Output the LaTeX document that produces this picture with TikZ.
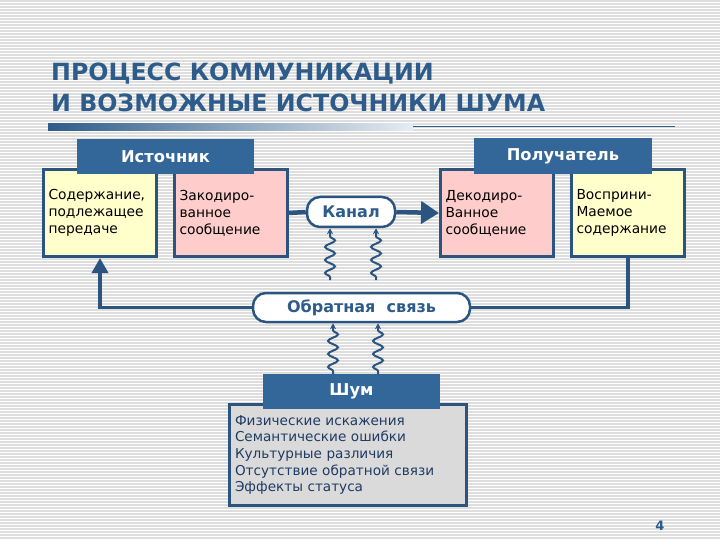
\documentclass[tikz,border=0pt]{standalone}
\usepackage{fontspec}
\setmainfont{DejaVu Sans}
\usetikzlibrary{decorations.pathmorphing,arrows.meta}
\definecolor{hdr}{HTML}{336699}
\definecolor{bord}{HTML}{2B5580}
\definecolor{ttl}{HTML}{2E5C8A}
\definecolor{yel}{HTML}{FFFFCC}
\definecolor{pnk}{HTML}{FFCCCC}
\definecolor{gry}{HTML}{DADADA}
\definecolor{stripe}{HTML}{DEDEDE}
\definecolor{navy}{HTML}{1F3B63}
\begin{document}
\begin{tikzpicture}[x=1pt,y=-1pt,
  cbox/.style={draw=bord, line width=3pt, minimum width=113pt, minimum height=87pt,
    text width=103pt, align=left, inner xsep=5pt, font=\fontsize{13.8}{17}\selectfont},
  hbox/.style={fill=hdr, text=white, minimum width=177pt, minimum height=35pt,
    inner sep=0pt, font=\bfseries\fontsize{16.3}{18}\selectfont},
  pill/.style={draw=bord, line width=2.5pt, fill=white, rounded corners=13pt,
    inner sep=0pt, text=ttl, font=\bfseries\fontsize{16}{18}\selectfont},
  conn/.style={draw=bord, line width=4.5pt},
  fbline/.style={draw=bord, line width=3.5pt},
  wave/.style={draw=bord, line width=2pt,
    decorate, decoration={snake, segment length=13pt, amplitude=5pt, pre length=3pt, post length=5pt},
    -{Stealth[length=6pt,width=6pt]}}
]
\useasboundingbox (0,0) rectangle (720,540);
\fill[white] (0,0) rectangle (720,540);
\foreach \yy in {1,4,...,540} \draw[stripe, line width=1.2pt] (0,\yy) -- (720,\yy);

% title
\node[anchor=north west, inner sep=0pt, text=ttl, align=left,
  font=\bfseries\fontsize{23.7}{31}\selectfont] (title) at (51,63)
  {ПРОЦЕСС КОММУНИКАЦИИ\\И ВОЗМОЖНЫЕ ИСТОЧНИКИ ШУМА};
\shade[left color=ttl, right color=ttl!12] (48,123.5) rectangle (413,131);
\coordinate (rl1) at (413,126.5);
\coordinate (rl2) at (675,126.5);
\draw[ttl, line width=1pt] (rl1) -- (rl2);

% boxes
\node[cbox, fill=yel] (y1) at (100,213) {Содержание,\\подлежащее\\передаче};
\node[cbox, fill=pnk] (p1) at (231,213) {Закодиро-\\ванное\\сообщение};
\node[cbox, fill=pnk] (p2) at (497,213) {Декодиро-\\Ванное\\сообщение};
\node[cbox, fill=yel] (y2) at (628,213) {Восприни-\\Маемое\\содержание};

\node[hbox] (hsrc) at (165.5,156.5) {Источник};
\node[hbox, minimum width=178pt, minimum height=36pt] (hdst) at (563,156) {Получатель};

% channel
\node[pill, minimum width=88pt, minimum height=30pt] (kanal) at (351,212) {Канал};
\draw[conn] (p1.east) -- (kanal.west);
\draw[conn, -{Triangle[length=18pt,width=22pt]}] (kanal.east) -- (p2.west);

% feedback
\node[pill, minimum width=217pt, minimum height=29pt] (fb) at (361.5,307.5) {Обратная\ \ связь};
\draw[fbline] (y2.south) |- (fb.east);
\draw[fbline, -{Triangle[length=15pt,width=16pt]}] (fb.west) -| (y1.south);

% noise
\node[draw=bord, line width=3pt, fill=gry, minimum width=237pt, minimum height=101pt,
  text width=226pt, align=left, inner xsep=5pt, text=navy,
  font=\fontsize{13.6}{16.7}\selectfont] (noise) at (348,455)
  {Физические искажения\\Семантические ошибки\\Культурные различия\\Отсутствие обратной связи\\Эффекты статуса};
\node[hbox] (hnoise) at (351.5,391.5) {Шум};

% wavy lines
\coordinate (w1) at (330,280);
\coordinate (w2) at (376,280);
\coordinate (w3) at (333,374);
\coordinate (w4) at (378,374);
\draw[wave] (w1) -- (w1 |- kanal.south);
\draw[wave] (w2) -- (w2 |- kanal.south);
\draw[wave] (w3) -- (w3 |- fb.south);
\draw[wave] (w4) -- (w4 |- fb.south);

\node[text=ttl, font=\bfseries\fontsize{13}{14}\selectfont] (pg) at (660,526) {4};
\end{tikzpicture}
\end{document}
